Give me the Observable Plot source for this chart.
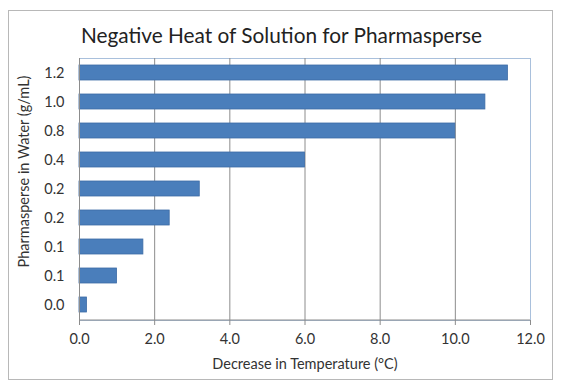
<!DOCTYPE html>
<html>
<head>
<meta charset="utf-8">
<script src="https://cdn.jsdelivr.net/npm/d3@7"></script>
<script src="https://cdn.jsdelivr.net/npm/@observablehq/plot@0.6"></script>
<style>
  html, body { margin: 0; padding: 0; background: #fff; }
  #page { position: relative; width: 563px; height: 392px; overflow: hidden; font-family: Lato, "Open Sans", sans-serif; }
  #border { position: absolute; left: 8px; top: 10px; width: 545px; height: 370px; border: 1px solid #b8b8b8; box-sizing: border-box; }
  #title { position: absolute; left: 0; top: 22px; width: 563px; text-align: center; font-size: 20.8px; color: #222; }
  #chart { position: absolute; left: 0; top: 50px; }
</style>
</head>
<body>
<div id="page">
  <div id="border"></div>
  <div id="title">Negative Heat of Solution for Pharmasperse</div>
  <div id="chart"></div>
</div>
<script>
const concentrations = ["0.0", "0.1", "0.1", "0.2", "0.2", "0.4", "0.8", "1.0", "1.2"];
const tempDecrease = [0.2, 1.0, 1.7, 2.4, 3.2, 6.0, 10.0, 10.8, 11.4];
const xTicks = [0, 2, 4, 6, 8, 10, 12];
const xLabel = "Decrease in Temperature (°C)";
const yLabel = "Pharmasperse in Water (g/mL)";

const rows = concentrations.map((c, i) => ({idx: i, conc: c, value: tempDecrease[i]}));

const plot = Plot.plot({
  width: 563,
  height: 342,
  marginTop: 8,
  marginBottom: 72,
  marginLeft: 79,
  marginRight: 33,
  style: {fontFamily: "Lato, 'Open Sans', sans-serif", fontSize: "14.5px", color: "#333", background: "transparent"},
  x: {domain: [0, 12], ticks: xTicks, label: null},
  y: {domain: d3.range(concentrations.length).reverse(), paddingInner: 0.48, paddingOuter: 0.24, label: null},
  marks: [
    Plot.frame({stroke: "#a9c0dc"}),
    Plot.gridX(xTicks.slice(0, -1), {stroke: "#8c8c8c", strokeOpacity: 1}),
    Plot.barX(rows, {x: "value", y: "idx", fill: "#4a7ebb", stroke: "#3d6ca6", strokeWidth: 0.8}),
    Plot.axisX({ticks: xTicks, tickFormat: d3.format(".1f"), tickSize: 5, tickPadding: 8, stroke: "#8c8c8c", fill: "#333", label: null}),
    Plot.ruleX([0], {stroke: "#8c8c8c"}),
    Plot.axisY({tickFormat: i => concentrations[i], tickSize: 0, tickPadding: 15, fill: "#333", label: null}),
    Plot.text([xLabel], {frameAnchor: "bottom", text: d => d, dy: 48, fontSize: 14.5, fill: "#333"}),
    Plot.text([yLabel], {frameAnchor: "left", text: d => d, textAnchor: "middle", rotate: -90, dx: -55, dy: -18, fontSize: 14.5, fill: "#333"})
  ]
});
document.getElementById("chart").appendChild(plot);
d3.select(plot).append("line")
  .attr("x1", 79).attr("x2", 530)
  .attr("y1", 270).attr("y2", 270)
  .attr("stroke", "#8c8c8c");
</script>
</body>
</html>
